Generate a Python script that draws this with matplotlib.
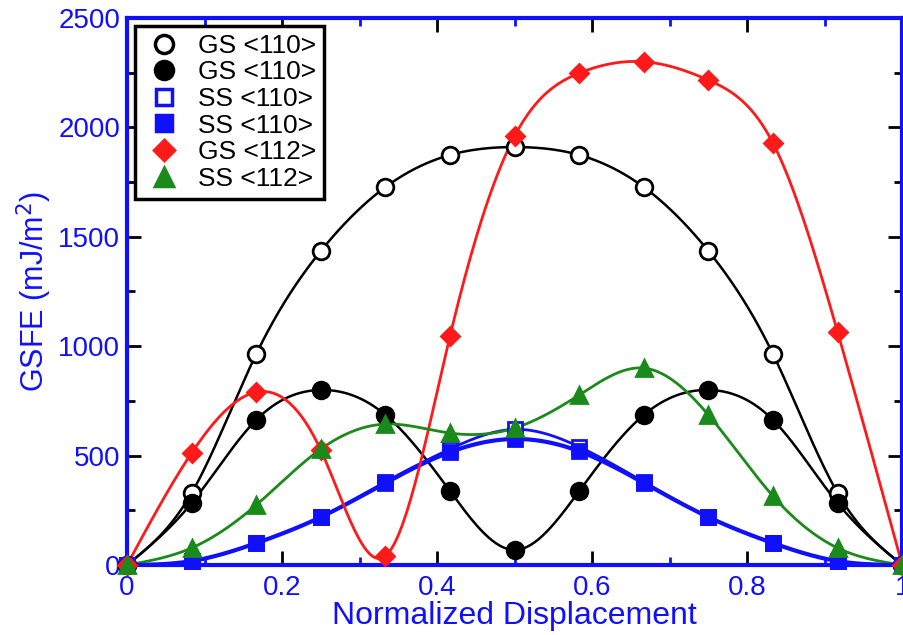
import numpy as np
import matplotlib.pyplot as plt
from matplotlib.lines import Line2D
from matplotlib.ticker import MultipleLocator

plt.rcParams['font.family'] = ['Liberation Sans', 'DejaVu Sans']

# displacement points (k/12)
disp = np.arange(13) / 12.0

gs110_open = [0, 329, 964, 1435, 1727, 1874, 1910, 1874, 1727, 1435, 964, 329, 0]
gs110_fill = [0, 283, 663, 800, 686, 338, 69, 338, 686, 800, 663, 283, 0]
ss110_open = [0, 18, 100, 219, 380, 530, 620, 540, 380, 219, 100, 18, 0]
ss110_fill = [0, 18, 100, 219, 375, 516, 576, 520, 375, 219, 100, 18, 0]
gs112 = [0, 512, 790, 525, 41, 1046, 1960, 2248, 2300, 2216, 1928, 1065, 0]
ss112 = [0, 78, 274, 530, 644, 603, 626, 777, 900, 686, 315, 78, 0]

labels = ['GS <110>', 'GS <110>', 'SS <110>', 'SS <110>', 'GS <112>', 'SS <112>']


def spline(x, y, n=400):
    # natural cubic spline through the points
    x = np.asarray(x, float)
    y = np.asarray(y, float)
    m = len(x)
    h = np.diff(x)
    A = np.zeros((m, m))
    b = np.zeros(m)
    A[0, 0] = A[-1, -1] = 1
    for i in range(1, m - 1):
        A[i, i - 1] = h[i - 1]
        A[i, i] = 2 * (h[i - 1] + h[i])
        A[i, i + 1] = h[i]
        b[i] = 6 * ((y[i + 1] - y[i]) / h[i] - (y[i] - y[i - 1]) / h[i - 1])
    M = np.linalg.solve(A, b)
    xs = np.linspace(x[0], x[-1], n)
    idx = np.clip(np.searchsorted(x, xs) - 1, 0, m - 2)
    x0, x1 = x[idx], x[idx + 1]
    hh = x1 - x0
    ys = (M[idx] * (x1 - xs) ** 3 / (6 * hh) + M[idx + 1] * (xs - x0) ** 3 / (6 * hh)
          + (y[idx] / hh - M[idx] * hh / 6) * (x1 - xs)
          + (y[idx + 1] / hh - M[idx + 1] * hh / 6) * (xs - x0))
    return xs, ys


blue = '#1010ff'
fig = plt.figure(figsize=(9.04, 6.35), dpi=100)
ax = fig.add_axes([0.1405, 0.1102, 0.8575, 0.8615])

series = [
    (gs110_open, 'black', 'o', 'none', 1.8, 12),
    (gs110_fill, 'black', 'o', 'black', 1.8, 12),
    (ss110_open, blue, 's', 'none', 2.0, 10),
    (ss110_fill, blue, 's', blue, 3.0, 10),
    (gs112, '#ff1a1a', 'D', '#ff1a1a', 2.0, 9),
    (ss112, '#1a8a1a', '^', '#1a8a1a', 2.0, 12),
]

handles = []
for (vals, col, mk, fc, lw, ms), lab in zip(series, labels):
    xs, ys = spline(disp, vals)
    ax.plot(xs, ys, color=col, lw=lw, zorder=2, clip_on=False)
    ax.plot(disp, vals, ls='none', marker=mk, ms=ms, mfc=fc if fc != 'none' else 'white',
            mec=col, mew=2, zorder=3, clip_on=False)
    handles.append(Line2D([], [], ls='none', marker=mk, ms=ms + 1, mfc=fc if fc != 'none' else 'white',
                          mec=col, mew=2.5, label=lab))

ax.set_xlim(0, 1)
ax.set_ylim(0, 2500)
ax.xaxis.set_minor_locator(MultipleLocator(0.1))
ax.yaxis.set_major_locator(MultipleLocator(500))
ax.yaxis.set_minor_locator(MultipleLocator(250))
ax.set_xticks([0, 0.2, 0.4, 0.6, 0.8, 1.0])
ax.set_xticklabels(['0', '0.2', '0.4', '0.6', '0.8', '1'])

ax.tick_params(which='both', direction='in', top=True, right=True, colors='black',
               labelcolor=blue, labelsize=20, width=2)
ax.tick_params(which='major', length=10)
ax.tick_params(which='minor', length=6)
ax.tick_params(axis='x', which='minor', colors=blue)
ax.tick_params(axis='x', pad=7)
ax.tick_params(axis='y', pad=5)

for s in ax.spines.values():
    s.set_color(blue)
    s.set_linewidth(3)

ax.set_xlabel('Normalized Displacement', color=blue, fontsize=23, labelpad=0)
ax.set_ylabel('GSFE (mJ/m$^2$)', color=blue, fontsize=22, labelpad=3)

leg = ax.legend(handles=handles, loc='upper left', fontsize=19, frameon=True, fancybox=False,
                borderaxespad=0.3, handletextpad=0.5, labelspacing=0.1, borderpad=0.3,
                handlelength=1.6)
leg.get_frame().set_edgecolor('black')
leg.get_frame().set_linewidth(2.5)
leg.get_frame().set_alpha(1)

fig.savefig('out.png', dpi=100)
